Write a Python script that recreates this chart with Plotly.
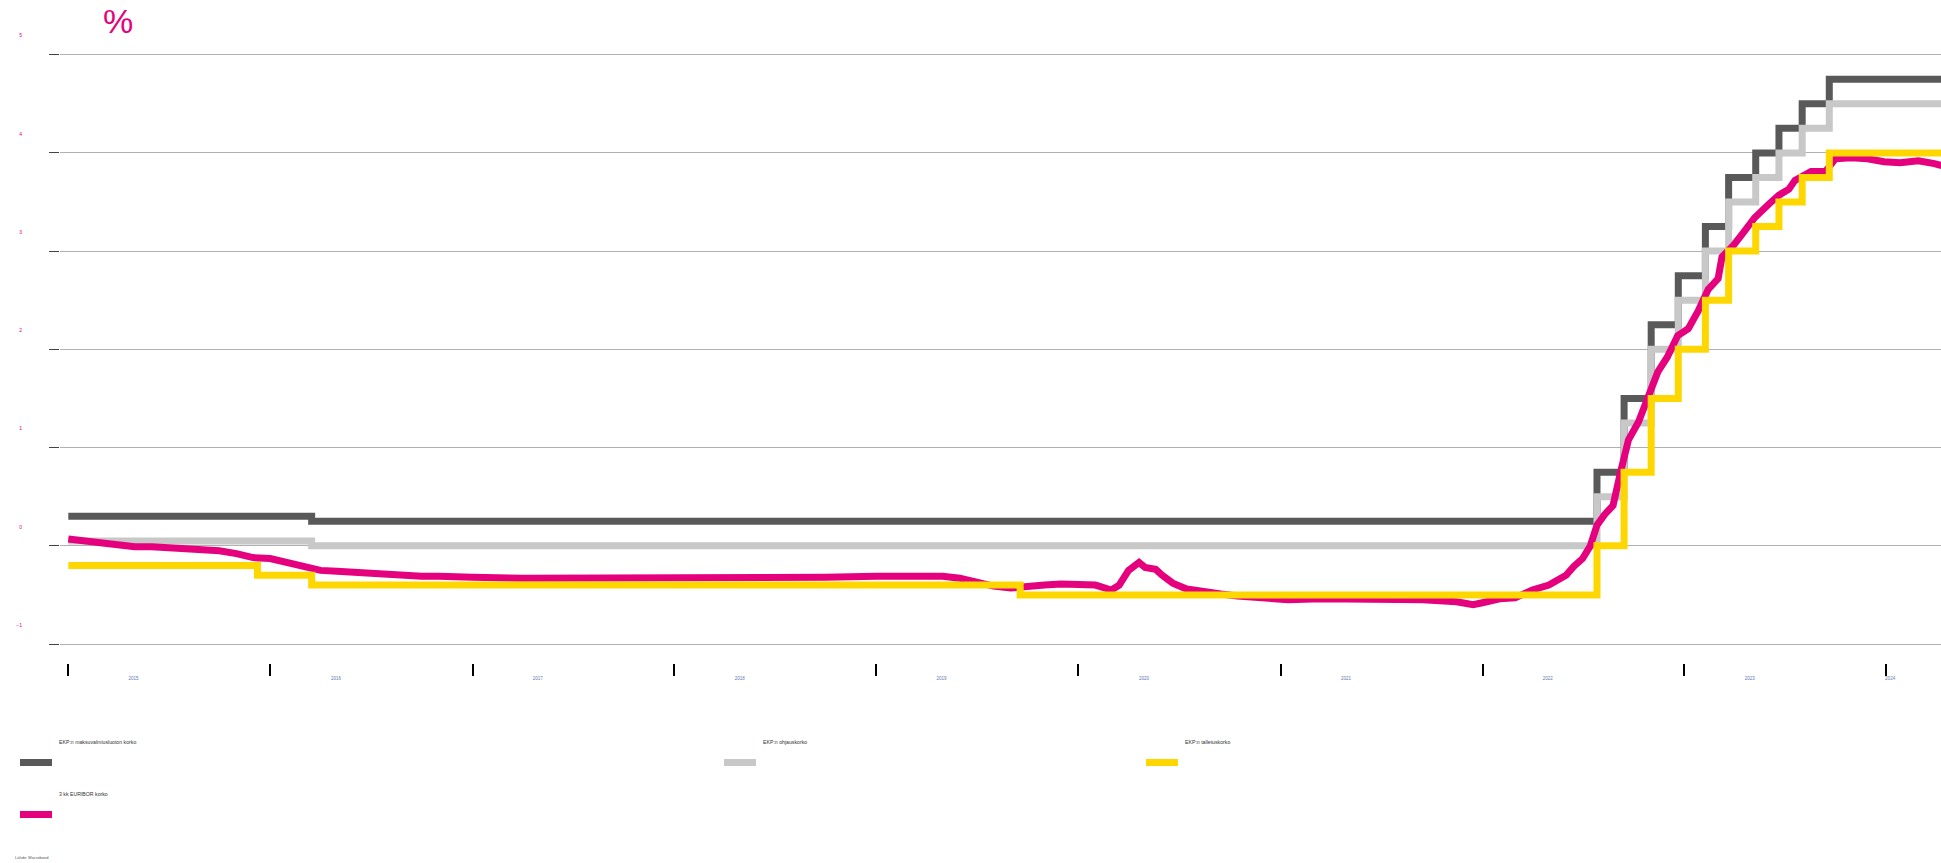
import plotly.graph_objects as go

# ---- data ----
policy_dates = ["2015-01-01", "2015-12-09", "2016-03-16", "2019-09-18", "2022-07-27",
                "2022-09-14", "2022-11-02", "2022-12-21", "2023-02-08", "2023-03-22",
                "2023-05-10", "2023-06-21", "2023-08-02", "2023-09-20", "2024-04-10"]
marginal_lending = [0.30, 0.30, 0.25, 0.25, 0.75, 1.50, 2.25, 2.75, 3.25, 3.75, 4.00, 4.25, 4.50, 4.75, 4.75]
main_refi = [0.05, 0.05, 0.00, 0.00, 0.50, 1.25, 2.00, 2.50, 3.00, 3.50, 3.75, 4.00, 4.25, 4.50, 4.50]
deposit = [-0.20, -0.30, -0.40, -0.50, 0.00, 0.75, 1.50, 2.00, 2.50, 3.00, 3.25, 3.50, 3.75, 4.00, 4.00]

euribor_dates = [
    "2015-01-01", "2015-02-01", "2015-03-01", "2015-04-01", "2015-05-01", "2015-06-01",
    "2015-07-01", "2015-08-01", "2015-09-01", "2015-10-01", "2015-11-01", "2015-12-01",
    "2016-01-01", "2016-02-01", "2016-03-01", "2016-04-01", "2016-05-01", "2016-06-01",
    "2016-07-01", "2016-08-01", "2016-09-01", "2016-10-01", "2016-11-01", "2016-12-01",
    "2017-01-01", "2017-04-01", "2017-07-01", "2017-10-01", "2018-01-01", "2018-04-01",
    "2018-07-01", "2018-10-01", "2019-01-01", "2019-03-01", "2019-05-01", "2019-06-01",
    "2019-07-01", "2019-08-01", "2019-09-01", "2019-10-01", "2019-11-01", "2019-12-01",
    "2020-01-01", "2020-02-01", "2020-03-01", "2020-03-15", "2020-04-01", "2020-04-20",
    "2020-05-01", "2020-05-20", "2020-06-01", "2020-06-20", "2020-07-15", "2020-08-15",
    "2020-09-15", "2020-10-15", "2020-11-15", "2020-12-15", "2021-01-15", "2021-03-15",
    "2021-06-15", "2021-09-15", "2021-11-15", "2021-12-15", "2022-01-01", "2022-02-01",
    "2022-03-01", "2022-04-01", "2022-05-01", "2022-06-01", "2022-06-15", "2022-07-01",
    "2022-07-15", "2022-07-27", "2022-08-10", "2022-08-25", "2022-09-08", "2022-09-22",
    "2022-10-10", "2022-10-28", "2022-11-14", "2022-12-01", "2022-12-20", "2023-01-08",
    "2023-01-26", "2023-02-13", "2023-03-03", "2023-03-10", "2023-03-31", "2023-04-18",
    "2023-05-08", "2023-06-03", "2023-06-21", "2023-07-09", "2023-07-20", "2023-08-18",
    "2023-09-13", "2023-10-01", "2023-10-30", "2023-11-28", "2023-12-28", "2024-01-26",
    "2024-02-28", "2024-03-28", "2024-04-10"]
euribor_3m = [
    0.07, 0.05, 0.04, 0.01, -0.01, -0.01,
    -0.02, -0.03, -0.04, -0.05, -0.08, -0.12,
    -0.13, -0.17, -0.21, -0.25, -0.26, -0.27,
    -0.29, -0.30, -0.30, -0.31, -0.31, -0.32,
    -0.32, -0.33, -0.33, -0.33, -0.33, -0.33,
    -0.32, -0.32, -0.31, -0.31, -0.31, -0.33,
    -0.37, -0.41, -0.43, -0.41, -0.40, -0.39,
    -0.39, -0.40, -0.45, -0.40, -0.25, -0.17,
    -0.22, -0.24, -0.30, -0.38, -0.44, -0.47,
    -0.49, -0.51, -0.52, -0.54, -0.55, -0.54,
    -0.54, -0.55, -0.57, -0.60, -0.58, -0.54,
    -0.53, -0.45, -0.40, -0.30, -0.21, -0.13,
    0.00, 0.21, 0.32, 0.41, 0.76, 1.08,
    1.26, 1.52, 1.77, 1.92, 2.14, 2.21,
    2.39, 2.61, 2.72, 2.94, 3.06, 3.19,
    3.34, 3.48, 3.57, 3.63, 3.72, 3.81,
    3.81, 3.94, 3.95, 3.94, 3.91, 3.90,
    3.92, 3.89, 3.87]

years = [str(y) for y in range(2015, 2025)]
year_tick_dates = [f"{y}-01-01" for y in range(2015, 2025)]
year_label_dates = [f"{y}-04-29" for y in range(2015, 2024)] + ["2024-01-08"]

series_names = ["EKP:n maksuvalmiusluoton korko", "EKP:n ohjauskorko",
                "EKP:n talletuskorko", "3 kk EURIBOR korko"]
colors = ["#595959", "#c8c8c8", "#ffd700", "#e5007e"]

W, H = 1941, 863
L, R, T, B = 60, 0, 35, 200
PW, PH = W - L - R, H - T - B

def px(x):
    return (x - L) / PW

def py(y):
    return (H - B - y) / PH

LW = 7
fig = go.Figure()
fig.add_trace(go.Scatter(x=policy_dates, y=marginal_lending, mode="lines", line_shape="hv",
                         line=dict(color=colors[0], width=LW), name=series_names[0]))
fig.add_trace(go.Scatter(x=policy_dates, y=main_refi, mode="lines", line_shape="hv",
                         line=dict(color=colors[1], width=LW), name=series_names[1]))
fig.add_trace(go.Scatter(x=euribor_dates, y=euribor_3m, mode="lines",
                         line=dict(color=colors[3], width=LW), name=series_names[3]))
fig.add_trace(go.Scatter(x=policy_dates, y=deposit, mode="lines", line_shape="hv",
                         line=dict(color=colors[2], width=LW), name=series_names[2]))
# invisible helper trace so the label axis is created
fig.add_trace(go.Scatter(x=[policy_dates[0]], y=[None], xaxis="x2", mode="lines",
                         showlegend=False, hoverinfo="skip"))

xrange = ["2014-12-17", "2024-04-09"]
fig.update_layout(
    width=W, height=H,
    margin=dict(l=L, r=R, t=T, b=B),
    paper_bgcolor="white", plot_bgcolor="white",
    showlegend=False,
    font=dict(family="Liberation Sans, Arial, sans-serif"),
    title=dict(text="%", x=118 / W, y=1 - 21 / H, xref="container", yref="container",
               xanchor="center", yanchor="middle",
               font=dict(size=34, color="#e5007e", family="Liberation Sans, Arial")),
    xaxis=dict(type="date", range=xrange, tickvals=year_tick_dates, ticktext=[""] * len(years),
               ticks="outside", ticklen=12, tickwidth=2, tickcolor="#000000",
               showgrid=False, showline=False, zeroline=False),
    xaxis2=dict(type="date", range=xrange, overlaying="x", anchor="y", side="bottom",
                tickvals=year_label_dates, ticktext=years, ticks="", showgrid=False,
                showline=False, zeroline=False, ticklabelstandoff=11,
                tickfont=dict(size=4.5, color="#5f79b0")),
    yaxis=dict(range=[-1.193, 5.2], tickvals=[-1, 0, 1, 2, 3, 4, 5], ticks="outside",
               ticklen=10, tickwidth=1, tickcolor="#444444",
               showgrid=True, gridcolor="#b0b0b0", gridwidth=1,
               zeroline=False, showline=False,
               ticklabelstandoff=26, ticklabelshift=-19,
               tickfont=dict(size=5, color="#e5007e")),
)

# custom legend: label text above a colour swatch
legend_items = [
    (series_names[0], colors[0], 20, 742),
    (series_names[1], colors[1], 724, 742),
    (series_names[2], colors[2], 1146, 742),
    (series_names[3], colors[3], 20, 794),
]
for name, col, x0, ty in legend_items:
    fig.add_annotation(text=name, xref="paper", yref="paper", x=px(x0 + 37), y=py(ty),
                       xanchor="left", yanchor="middle", showarrow=False,
                       font=dict(size=5.2, color="#333333"))
    fig.add_shape(type="rect", xref="paper", yref="paper",
                  x0=px(x0), x1=px(x0 + 32), y0=py(ty + 24), y1=py(ty + 17),
                  fillcolor=col, line=dict(width=0))

fig.add_annotation(text="Lähde: Macrobond", xref="paper", yref="paper", x=px(13), y=py(858),
                   xanchor="left", yanchor="middle", showarrow=False,
                   font=dict(size=4, color="#555555"))

fig.write_html("out.html", config={"displayModeBar": False},
               post_script="document.body.style.margin='0';document.body.style.padding='0';")
